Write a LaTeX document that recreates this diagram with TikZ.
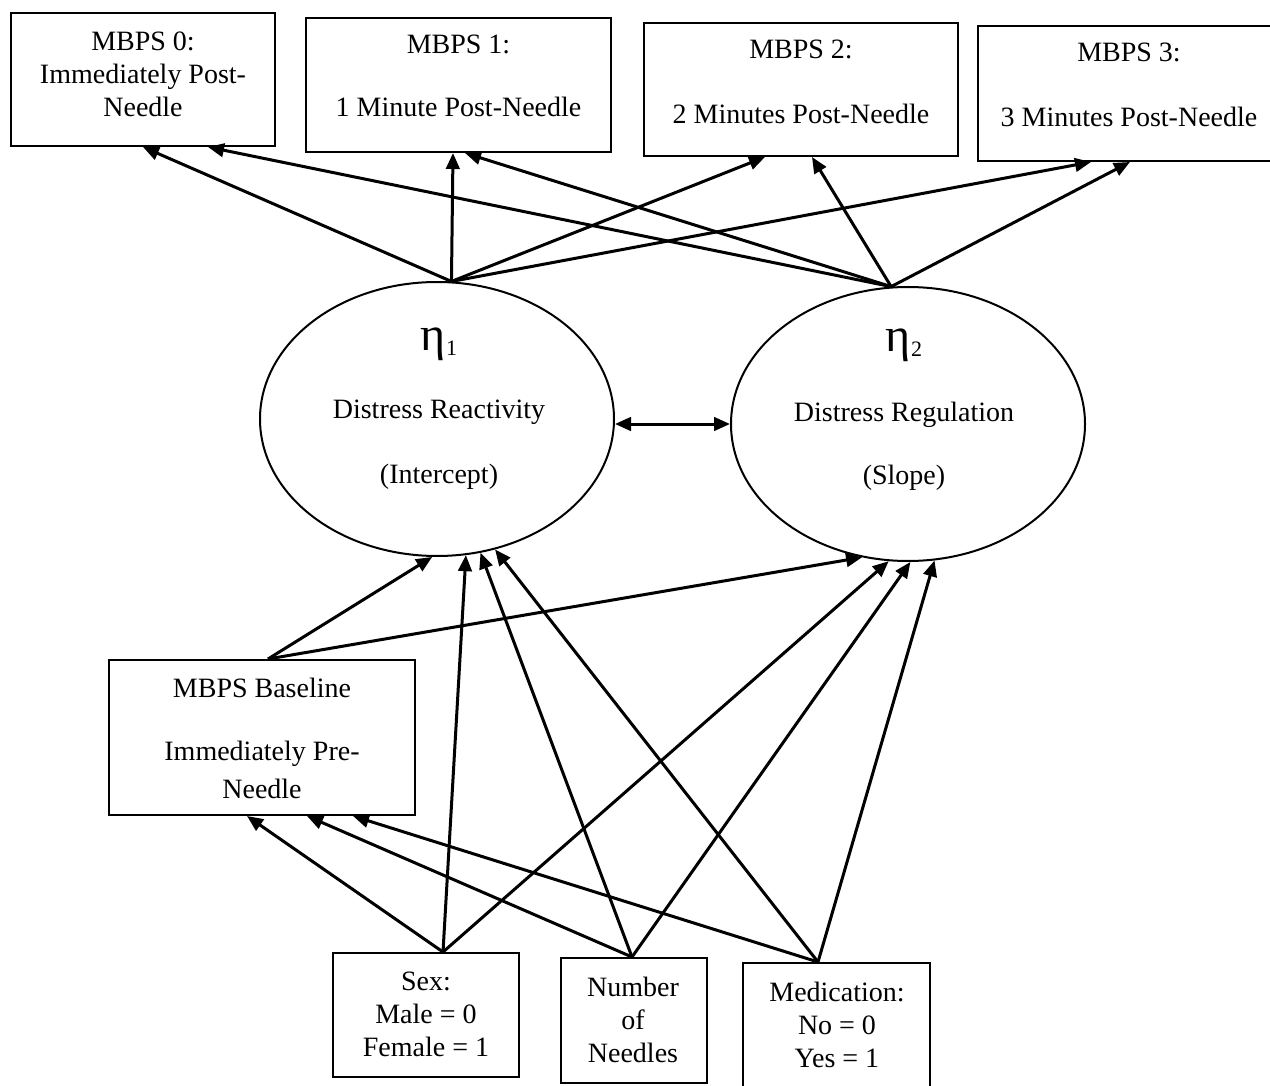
\documentclass[tikz,border=0pt]{standalone}
\usepackage{fontspec}
\setmainfont{Liberation Serif}
\usetikzlibrary{arrows.meta,shapes.geometric}
\begin{document}
\begin{tikzpicture}[x=1pt,y=-1pt,
  box/.style={draw, line width=2pt, inner sep=0pt},
  txt/.style={align=center, inner sep=0pt, font=\fontsize{28}{33}\selectfont},
  latent/.style={draw, ellipse, line width=2pt, inner sep=0pt,
                 minimum width=354pt, minimum height=274pt},
  tip/.tip={Triangle[length=16pt,width=13.5pt]},
  effect/.style={line width=3pt, -tip},
  covar/.style={line width=3pt, tip-tip}
]
% canvas
\fill[white] (0,0) rectangle (1270,1086);
\useasboundingbox (0,0) rectangle (1270,1086);
\clip (0,0) rectangle (1270,1086);

% repeated measures (outcomes)
\node[box, minimum width=264pt, minimum height=133pt] (m0) at (143,79.5) {};
\node[box, minimum width=305pt, minimum height=134pt] (m1) at (458.5,85) {};
\node[box, minimum width=314pt, minimum height=133pt] (m2) at (801,89.5) {};
\node[box, minimum width=330pt, minimum height=135pt] (m3) at (1143,93.5) {};
\node[txt] (m0t) at (143,74) {MBPS 0:\\Immediately Post-\\Needle};
\node[txt] (m1t) at (458.5,76) {MBPS 1:\\[30pt]1 Minute Post-Needle};
\node[txt] (m2t) at (801,82) {MBPS 2:\\[32pt]2 Minutes Post-Needle};
\node[txt] (m3t) at (1129,85) {MBPS 3:\\[32pt]3 Minutes Post-Needle};

% latent growth factors
\node[latent] (e1) at (437,419) {};
\node[latent] (e2) at (908,424) {};
\node[txt] (e1t) at (439,408.5)
  {{\fontsize{48}{48}\selectfont η}{\fontsize{22}{22}\selectfont\raisebox{-5pt}{1}}\\[35pt]Distress Reactivity\\[32pt](Intercept)};
\node[txt] (e2t) at (904,409.5)
  {{\fontsize{48}{48}\selectfont η}{\fontsize{22}{22}\selectfont\raisebox{-5pt}{2}}\\[37pt]Distress Regulation\\[30pt](Slope)};

% covariates
\node[box, minimum width=306pt, minimum height=155pt] (base) at (262,737.5) {};
\node[txt] (baset) at (262,738) {MBPS Baseline\\[30pt]Immediately Pre-\\[5pt]Needle};
\node[box, minimum width=186pt, minimum height=124pt] (sex) at (426,1015) {};
\node[txt] (sext) at (426,1014.5) {Sex:\\Male = 0\\Female = 1};
\node[box, minimum width=146pt, minimum height=125pt] (num) at (634,1020.5) {};
\node[txt] (numt) at (633,1020) {Number\\of\\Needles};
\node[box, minimum width=187pt, minimum height=132pt] (med) at (836.5,1029) {};
\node[txt] (medt) at (837,1025) {Medication:\\No = 0\\Yes = 1};

% factor loadings
\draw[effect] (e1.84) -- (m0.south);
\draw[effect] (e1.84) -- ([xshift=-5.5pt]m1.south);
\draw[effect] (e1.84) -- ([xshift=-36pt]m2.south);
\draw[effect] (e1.84) -- ([xshift=-52pt]m3.south);
\draw[effect] (e2.97) -- ([xshift=65pt]m0.south);
\draw[effect] (e2.97) -- ([xshift=6.5pt]m1.south);
\draw[effect] (e2.97) -- ([xshift=11pt]m2.south);
\draw[effect] (e2.97) -- ([xshift=-13pt]m3.south);

% factor covariance
\draw[covar] (e1.east |- e2.west) -- (e2.west);

% baseline distress as predictor
\draw[effect] ([xshift=6pt]base.north) -- (e1.268);
\draw[effect] ([xshift=6pt]base.north) -- (e2.251);

% sex
\draw[effect] ([xshift=17pt]sex.north) -- ([xshift=-15pt]base.south);
\draw[effect] ([xshift=17pt]sex.north) -- (e1.282);
\draw[effect] ([xshift=17pt]sex.north) -- (e2.262);

% number of needles
\draw[effect] ([xshift=-2pt]num.north) -- ([xshift=45pt]base.south);
\draw[effect] ([xshift=-2pt]num.north) -- (e1.288);
\draw[effect] ([xshift=-2pt]num.north) -- (e2.271);

% medication
\draw[effect] ([xshift=-18.5pt]med.north) -- ([xshift=91pt]base.south);
\draw[effect] ([xshift=-18.5pt]med.north) -- (e1.294);
\draw[effect] ([xshift=-18.5pt]med.north) -- (e2.281);
\end{tikzpicture}
\end{document}
